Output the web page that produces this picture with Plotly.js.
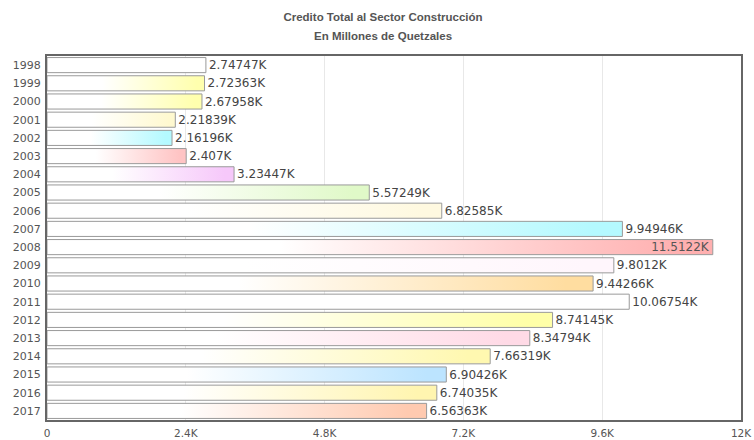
<!DOCTYPE html>
<html>
<head>
<meta charset="utf-8">
<script src="https://cdn.plot.ly/plotly-3.0.1.min.js"></script>
<style>html,body{margin:0;padding:0;background:#fff;}#chart{width:754px;height:440px;}</style>
</head>
<body>
<div id="chart"></div>
<script>
const years = ["1998","1999","2000","2001","2002","2003","2004","2005","2006","2007","2008","2009","2010","2011","2012","2013","2014","2015","2016","2017"];
const credito = [2747.47, 2723.63, 2679.58, 2218.39, 2161.96, 2407.0, 3234.47, 5572.49, 6825.85, 9949.46, 11512.2, 9801.2, 9442.66, 10067.54, 8741.45, 8347.94, 7663.19, 6904.26, 6740.35, 6563.63];
const barColors = ["#ffffff","#ffffae","#ffffae","#fff9d0","#b4f9ff","#ffc4c4","#f6c8fa","#e0f9c8","#fff9e0","#b4f9ff","#ffb0b0","#fff6fc","#ffdda0","#ffffff","#ffffa8","#ffdae6","#fff8b0","#bce4ff","#fff5b0","#ffcab0"];
const tickVals = [0, 2400, 4800, 7200, 9600, 12000];
const tickText = ["0","2.4K","4.8K","7.2K","9.6K","12K"];
const titleLine1 = "Credito Total al Sector Construcción";
const titleLine2 = "En Millones de Quetzales";

const labels = credito.map(v => parseFloat((v/1000).toFixed(6)) + "K");
const xMax = 12000;
const positions = credito.map(v => v > xMax*0.93 ? "inside" : "outside");

const titleFont = {family: "Liberation Sans Narrow, Liberation Sans", size: 11.5, color: "#555"};

const trace = {
  type: "bar",
  orientation: "h",
  y: years,
  x: credito,
  text: labels,
  textposition: positions,
  insidetextanchor: "end",
  textangle: 0,
  cliponaxis: false,
  constraintext: "none",
  textfont: {family: "DejaVu Sans", size: 12, color: "#444"},
  insidetextfont: {family: "DejaVu Sans", size: 12, color: "#555"},
  outsidetextfont: {family: "DejaVu Sans", size: 12, color: "#444"},
  marker: {color: barColors, line: {color: "#9a9a9a", width: 1}},
  hoverinfo: "none"
};

const layout = {
  width: 754, height: 440,
  margin: {l: 47, r: 13, t: 56, b: 20, pad: 0},
  paper_bgcolor: "#fff", plot_bgcolor: "#fff",
  showlegend: false,
  bargap: 0.17,
  title: {
    text: "<b>" + titleLine1 + "</b>",
    x: 383/754, xanchor: "center", y: 1 - 17/440, yanchor: "middle",
    font: titleFont
  },
  annotations: [{
    text: "<b>" + titleLine2 + "</b>",
    xref: "paper", yref: "paper",
    x: (383 - 47) / 694, y: 1 + (56 - 36) / 364,
    xanchor: "center", yanchor: "middle",
    showarrow: false,
    font: titleFont
  }],
  xaxis: {
    range: [0, xMax],
    tickvals: tickVals, ticktext: tickText,
    showgrid: true, gridcolor: "#e8e8e8", gridwidth: 1,
    zeroline: false,
    showline: true, linecolor: "#666", linewidth: 2, mirror: true,
    ticks: "", ticklabelstandoff: 2,
    tickfont: {family: "DejaVu Sans", size: 10.5, color: "#555"}
  },
  yaxis: {
    type: "category",
    autorange: "reversed",
    showgrid: false, zeroline: false,
    showline: true, linecolor: "#666", linewidth: 2, mirror: true,
    ticks: "", ticklabelstandoff: 2,
    tickfont: {family: "DejaVu Sans", size: 11, color: "#555"}
  }
};

const gd = document.getElementById("chart");
Plotly.newPlot(gd, [trace], layout, {displayModeBar: false, staticPlot: true}).then(function(){
  const svg = gd.querySelector("svg.main-svg");
  let defs = svg.querySelector("defs");
  if (!defs) { defs = document.createElementNS("http://www.w3.org/2000/svg","defs"); svg.insertBefore(defs, svg.firstChild); }
  const NS = "http://www.w3.org/2000/svg";
  const paths = gd.querySelectorAll(".trace.bars .point path");
  paths.forEach(function(p, i){
    const g = document.createElementNS(NS, "linearGradient");
    g.setAttribute("id", "bargrad" + i);
    g.setAttribute("x1", "0"); g.setAttribute("x2", "1");
    g.setAttribute("y1", "0"); g.setAttribute("y2", "0");
    [[0, "#ffffff"], [0.35, "#ffffff"], [0.95, barColors[i]], [1, barColors[i]]].forEach(function(s){
      const st = document.createElementNS(NS, "stop");
      st.setAttribute("offset", s[0]);
      st.setAttribute("stop-color", s[1]);
      g.appendChild(st);
    });
    defs.appendChild(g);
    p.style.fill = "url(#bargrad" + i + ")";
    p.style.fillOpacity = 1;
  });
});
</script>
</body>
</html>
